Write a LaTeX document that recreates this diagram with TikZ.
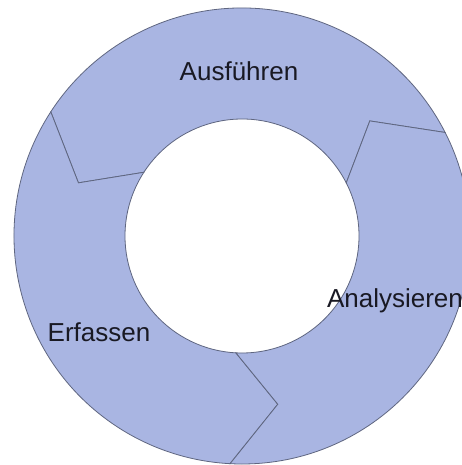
\documentclass[tikz,border=0pt]{standalone}
\usepackage{fontspec}
\setmainfont{Liberation Sans}
\definecolor{ringfill}{RGB}{169,181,226}
\definecolor{ringline}{RGB}{95,102,128}
\definecolor{ringtext}{RGB}{25,25,35}
\tikzset{
  segment/.style={draw=ringline, fill=ringfill, line width=0.8pt, line join=miter},
  steplabel/.style={text=ringtext, font=\fontsize{26}{30}\selectfont, inner sep=0pt}
}
\begin{document}
\begin{tikzpicture}[x=1pt,y=1pt]
	\useasboundingbox (0,0) rectangle (462,465);
	\clip (0,0) rectangle (462,465);
	\fill[white] (0,0) rectangle (462,465);
	% three arrow segments of the ring
	\begin{scope}[shift={(242,229)}]
		\foreach \a in {27,147,267}{
			\draw[segment] (\a:228) arc[start angle=\a, end angle=\a+120, radius=228]
				-- (\a+135:172) -- (\a+120:117)
				arc[start angle=\a+120, end angle=\a, radius=117]
				-- (\a+15:172) -- cycle;
		}
	\end{scope}

	\node[steplabel] (ausf) at (239,394) {Ausführen};
	\node[steplabel] (anal) at (395,164) {Analysieren};
	\node[steplabel] (erf) at (99,133) {Erfassen};
\end{tikzpicture}
\end{document}
